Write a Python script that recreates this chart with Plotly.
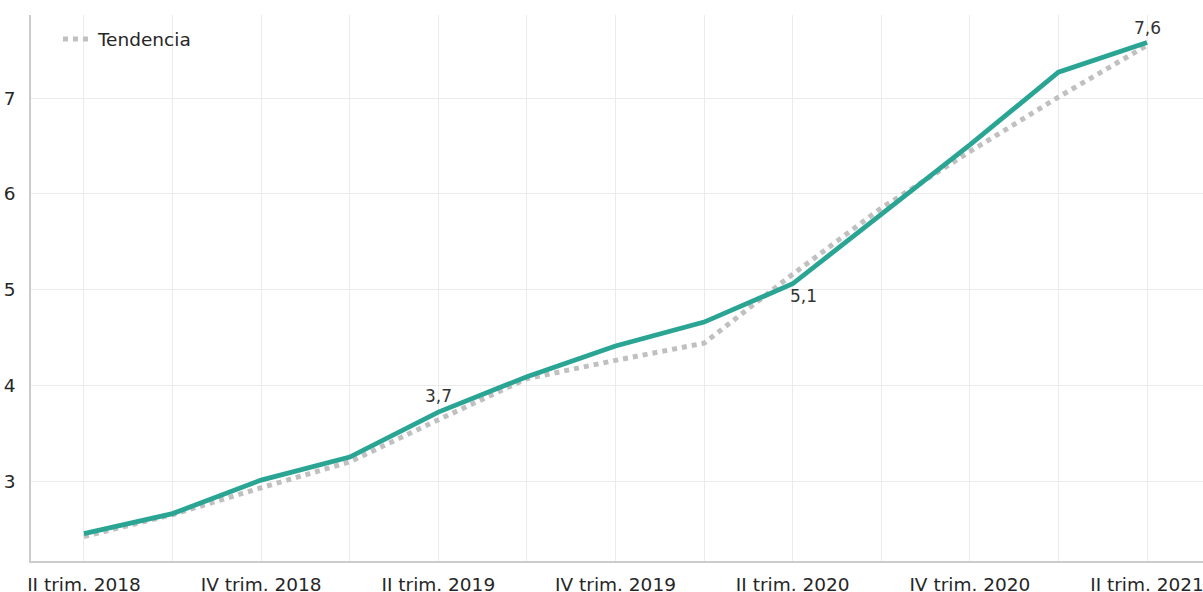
import plotly.graph_objects as go

quarters = ["II trim. 2018", "III trim. 2018", "IV trim. 2018", "I trim. 2019",
            "II trim. 2019", "III trim. 2019", "IV trim. 2019", "I trim. 2020",
            "II trim. 2020", "III trim. 2020", "IV trim. 2020", "I trim. 2021",
            "II trim. 2021"]
valores = [2.45, 2.66, 3.01, 3.25, 3.72, 4.09, 4.41, 4.66, 5.06, 5.79, 6.51, 7.27, 7.58]
tendencia = [2.42, 2.65, 2.93, 3.20, 3.64, 4.07, 4.26, 4.44, 5.16, 5.85, 6.44, 7.01, 7.55]
tick_labels = [q if i % 2 == 0 else "" for i, q in enumerate(quarters)]
etiquetas = {4: "3,7", 8: "5,1", 12: "7,6"}
etiqueta_pos = {4: (0, 4, "bottom"), 8: (11, 0, "top"), 12: (0, 2, "bottom")}

x = list(range(len(quarters)))

fig = go.Figure()
fig.add_trace(go.Scatter(x=x, y=tendencia, mode="lines", name="Tendencia",
                         line=dict(color="#c0c0c0", width=5, dash="dot"),
                         showlegend=True, hoverinfo="skip"))
fig.add_trace(go.Scatter(x=x, y=valores, mode="lines", name="Serie",
                         line=dict(color="#2aa594", width=4.8),
                         showlegend=False))

for i, txt in etiquetas.items():
    dx, dy, ya = etiqueta_pos[i]
    fig.add_annotation(x=x[i], y=valores[i], text=txt, showarrow=False,
                       xshift=dx, yshift=dy, xanchor="center", yanchor=ya,
                       font=dict(size=17, color="#333333"))

fig.update_layout(
    width=1203, height=592,
    margin=dict(l=31, r=0, t=15, b=31, autoexpand=False),
    paper_bgcolor="white", plot_bgcolor="white",
    font=dict(family="DejaVu Sans", size=18.5, color="#262626"),
    legend=dict(x=0.023, y=0.99, xanchor="left", yanchor="top",
                bgcolor="rgba(0,0,0,0)", font=dict(size=18.5)),
)
fig.update_xaxes(range=[-0.598, 12.632], tickvals=x, ticktext=tick_labels,
                 showgrid=True, gridcolor="#ebebeb", gridwidth=1,
                 showline=True, linecolor="#cccccc", linewidth=1.5,
                 zeroline=False, ticks="", ticklabelstandoff=6, automargin=False,
                 ticklabeloverflow="allow")
fig.update_yaxes(range=[2.165, 7.867], tickvals=[3, 4, 5, 6, 7],
                 showgrid=True, gridcolor="#ebebeb", gridwidth=1,
                 showline=True, linecolor="#cccccc", linewidth=1.5,
                 zeroline=False, ticks="", ticklabelstandoff=10, automargin=False,
                 ticklabeloverflow="allow")

fig.write_html("out.html", config={"displayModeBar": False},
               post_script="document.body.style.margin='0';document.body.style.padding='0';")
